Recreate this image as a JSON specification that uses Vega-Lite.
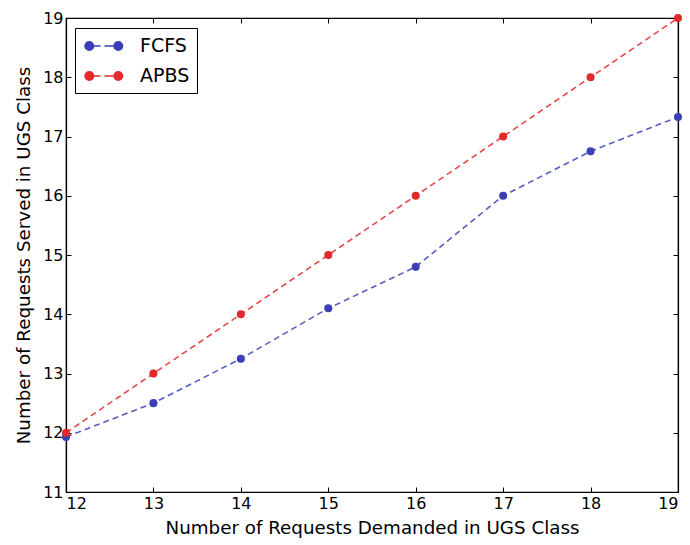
{
  "$schema": "https://vega.github.io/schema/vega-lite/v6.json",
  "width": 612,
  "height": 474,
  "autosize": {"type": "none"},
  "padding": {"left": 66, "top": 18, "right": 12, "bottom": 53},
  "background": "white",
  "config": {
    "view": {"stroke": "black", "strokeWidth": 1.2},
    "font": "DejaVu Sans",
    "axis": {
      "grid": false,
      "domainColor": "black",
      "domainWidth": 1.2,
      "tickColor": "black",
      "tickSize": -5,
      "labelFont": "DejaVu Sans",
      "labelFontSize": 16,
      "labelColor": "black",
      "titleFont": "DejaVu Sans",
      "titleFontSize": 18.3,
      "titleFontWeight": "normal",
      "titleColor": "black"
    }
  },
  "data": {
    "values": [
      {"x": 12, "y": 11.93, "series": "FCFS"},
      {"x": 13, "y": 12.5, "series": "FCFS"},
      {"x": 14, "y": 13.25, "series": "FCFS"},
      {"x": 15, "y": 14.1, "series": "FCFS"},
      {"x": 16, "y": 14.8, "series": "FCFS"},
      {"x": 17, "y": 16.0, "series": "FCFS"},
      {"x": 18, "y": 16.75, "series": "FCFS"},
      {"x": 19, "y": 17.33, "series": "FCFS"},
      {"x": 12, "y": 12, "series": "APBS"},
      {"x": 13, "y": 13, "series": "APBS"},
      {"x": 14, "y": 14, "series": "APBS"},
      {"x": 15, "y": 15, "series": "APBS"},
      {"x": 16, "y": 16, "series": "APBS"},
      {"x": 17, "y": 17, "series": "APBS"},
      {"x": 18, "y": 18, "series": "APBS"},
      {"x": 19, "y": 19, "series": "APBS"}
    ]
  },
  "resolve": {"axis": {"x": "independent", "y": "independent"}},
  "layer": [
    {
      "mark": {"type": "line", "strokeDash": [6, 4], "strokeWidth": 1.6, "opacity": 0.85, "clip": false},
      "encoding": {
        "x": {"field": "x", "type": "quantitative", "scale": {"domain": [12, 19], "nice": false, "zero": false},
          "axis": {"values": [12, 13, 14, 15, 16, 17, 18, 19], "title": "Number of Requests Demanded in UGS Class", "labelPadding": 8, "titlePadding": 8}},
        "y": {"field": "y", "type": "quantitative", "scale": {"domain": [11, 19], "nice": false, "zero": false},
          "axis": {"values": [11, 12, 13, 14, 15, 16, 17, 18, 19], "title": "Number of Requests Served in UGS Class", "labelPadding": 8, "titlePadding": 9}},
        "color": {"field": "series", "type": "nominal", "scale": {"domain": ["FCFS", "APBS"], "range": ["#3b3fb6", "#e3292b"]},
          "legend": {
            "title": null,
            "orient": "none",
            "legendX": 9,
            "legendY": 10,
            "direction": "vertical",
            "strokeColor": "black",
            "fillColor": "white",
            "padding": 7,
            "rowPadding": 9,
            "symbolType": "M -0.8 0 A 0.43 0.43 0 1 1 0.06 0 A 0.43 0.43 0 1 1 -0.8 0 Z M 0.06 0 L 0.75 0 M 1.15 0 L 2.1 0 M 2.1 0 A 0.43 0.43 0 1 1 2.96 0 A 0.43 0.43 0 1 1 2.1 0 Z",
            "symbolSize": 400,
            "symbolStrokeWidth": 1.5,
            "symbolOpacity": 1,
            "labelFont": "DejaVu Sans",
            "labelFontSize": 19,
            "labelColor": "black",
            "labelOffset": 36
          }
        },
        "detail": {"field": "series"}
      }
    },
    {
      "mark": {"type": "point", "filled": true, "size": 65, "opacity": 1, "clip": false},
      "encoding": {
        "x": {"field": "x", "type": "quantitative", "axis": null},
        "y": {"field": "y", "type": "quantitative", "axis": null},
        "color": {"field": "series", "type": "nominal", "scale": {"domain": ["FCFS", "APBS"], "range": ["#3b3fb6", "#e3292b"]}}
      }
    },
    {
      "mark": {"type": "point", "opacity": 0},
      "encoding": {
        "x": {"field": "x", "type": "quantitative", "axis": {"orient": "top", "values": [12, 13, 14, 15, 16, 17, 18, 19], "labels": false, "title": null}},
        "y": {"field": "y", "type": "quantitative", "axis": {"orient": "right", "values": [11, 12, 13, 14, 15, 16, 17, 18, 19], "labels": false, "title": null}}
      }
    }
  ]
}
